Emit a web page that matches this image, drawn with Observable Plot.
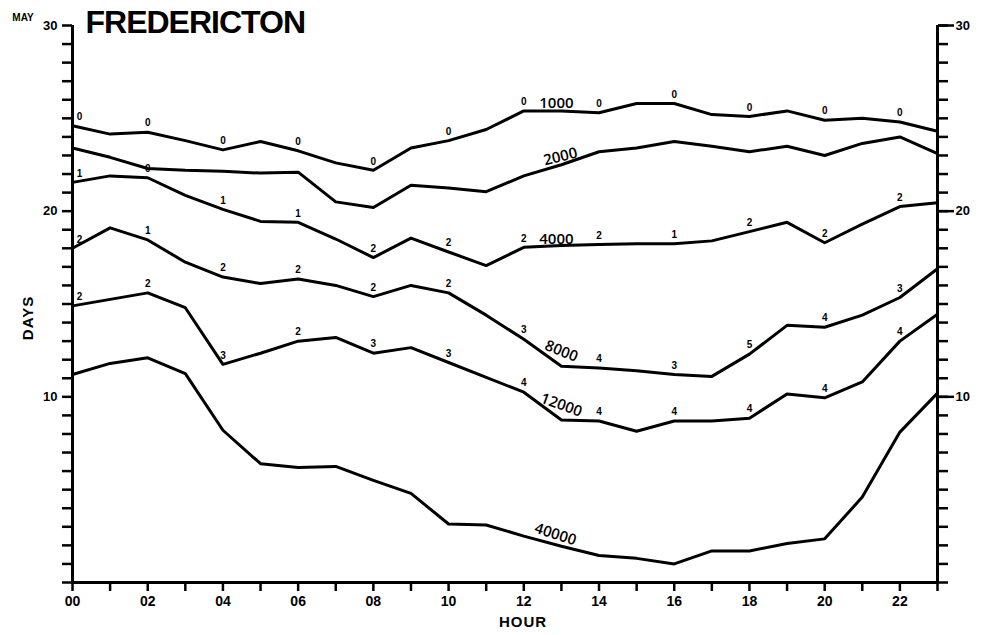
<!DOCTYPE html>
<html>
<head>
<meta charset="utf-8">
<script src="https://cdn.jsdelivr.net/npm/d3@7"></script>
<script src="https://cdn.jsdelivr.net/npm/@observablehq/plot@0.6"></script>
<style>
  html, body { margin: 0; padding: 0; background: #fff; }
  #chart { width: 986px; height: 635px; }
</style>
</head>
<body>
<div id="chart"></div>
<script>
// ---- data ----
const hours = [0,1,2,3,4,5,6,7,8,9,10,11,12,13,14,15,16,17,18,19,20,21,22,23];
const hourTicks = [0,1,2,3,4,5,6,7,8,9,10,11,12,13,14,15,16,17,18,19,20,21,22,23];
const hourLabelValues = [0,2,4,6,8,10,12,14,16,18,20,22];
const hourLabelText = ["00","02","04","06","08","10","12","14","16","18","20","22"];
const dayTicks = [0,1,2,3,4,5,6,7,8,9,10,11,12,13,14,15,16,17,18,19,20,21,22,23,24,25,26,27,28,29,30];
const dayLabelValues = [10,20,30];
const dayLabelText = ["10","20","30"];

const s1000  = [24.6,24.15,24.25,23.8,23.3,23.75,23.25,22.6,22.2,23.4,23.8,24.4,25.4,25.4,25.3,25.8,25.8,25.2,25.1,25.4,24.9,25.0,24.8,24.3];
const s2000  = [23.4,22.9,22.3,22.2,22.15,22.05,22.1,20.5,20.2,21.4,21.25,21.05,21.9,22.5,23.2,23.4,23.75,23.5,23.2,23.5,23.0,23.65,24.0,23.1];
const s4000  = [21.55,21.9,21.8,20.85,20.1,19.45,19.4,18.5,17.5,18.55,17.8,17.07,18.05,18.15,18.2,18.25,18.25,18.4,18.9,19.4,18.3,19.3,20.25,20.45];
const s8000  = [18.0,19.1,18.45,17.25,16.45,16.1,16.35,16.0,15.4,16.0,15.6,14.4,13.1,11.65,11.55,11.4,11.2,11.1,12.3,13.85,13.75,14.4,15.35,16.9];
const s12000 = [14.9,15.25,15.6,14.8,11.75,12.35,13.0,13.2,12.35,12.65,11.85,11.05,10.25,8.75,8.7,8.15,8.7,8.7,8.85,10.15,9.95,10.8,13.0,14.45];
const s40000 = [11.2,11.8,12.1,11.25,8.2,6.4,6.2,6.25,5.5,4.8,3.15,3.1,2.5,1.95,1.45,1.3,1.0,1.7,1.7,2.1,2.35,4.6,8.1,10.2];

const seriesNames = ["1000","2000","4000","8000","12000","40000"];

// small annotation numbers along the curves, at the even hours
const markHours = [0,2,4,6,8,10,12,14,16,18,20,22];
const marks1000  = ["0","0","0","0","0","0","0","0","0","0","0","0"];
const marks4000  = ["1","0","1","1","2","2","2","2","1","2","2","2"];
const marks8000  = ["2","1","2","2","2","2","3","4","3","5","4","3"];
const marks12000 = ["2","2","3","2","3","3","4","4","4","4","4","4"];

// hour at which each curve's name is written
const nameHour = 13;

// ---- build tables ----
const allSeries = [s1000, s2000, s4000, s8000, s12000, s40000];
const lineData = allSeries.flatMap((vals, k) =>
  hours.map((h, i) => ({name: seriesNames[k], hour: h, days: vals[i]})));

const markSets = [[s1000, marks1000], [s4000, marks4000], [s8000, marks8000], [s12000, marks12000]];
const markData = markSets.flatMap(([vals, txt]) =>
  markHours.map((h, j) => ({hour: h, days: vals[hours.indexOf(h)], text: txt[j]})));

const nameIdx = hours.indexOf(nameHour);
function curveName(k, opts) {
  return Plot.text([{hour: nameHour, days: allSeries[k][nameIdx], text: seriesNames[k]}], {
    x: "hour", y: "days", text: "text",
    fontSize: 15, fontWeight: 600, fontFamily: "'Open Sans', 'Liberation Sans', sans-serif",
    fill: "black", ...opts
  });
}

const font = "'Liberation Sans', Arial, Helvetica, sans-serif";

const chart = Plot.plot({
  width: 986,
  height: 635,
  marginLeft: 72,
  marginRight: 49,
  marginTop: 25,
  marginBottom: 53,
  x: {domain: [0, 23]},
  y: {domain: [0, 30]},
  style: {fontFamily: font, fontWeight: "bold", background: "white", color: "black", overflow: "visible"},
  marks: [
    // axes
    Plot.axisX({anchor: "bottom", ticks: hourTicks, tickSize: 9, tickPadding: 5, strokeWidth: 2.5,
      tickFormat: d => hourLabelValues.includes(d) ? hourLabelText[hourLabelValues.indexOf(d)] : "",
      fontSize: 14, fontWeight: "bold", label: null}),
    Plot.axisY({anchor: "left", ticks: dayTicks, tickSize: 10, tickPadding: 5, strokeWidth: 2.5,
      tickFormat: d => dayLabelValues.includes(d) ? dayLabelText[dayLabelValues.indexOf(d)] : "",
      fontSize: 13, fontWeight: "bold", label: null}),
    Plot.axisY({anchor: "right", ticks: dayTicks, tickSize: 10, strokeWidth: 2.5,
      tickFormat: () => "", label: null}),
    Plot.axisY({anchor: "right", ticks: dayLabelValues, tickSize: 16, tickPadding: 2, strokeWidth: 2.5,
      tickFormat: d => dayLabelText[dayLabelValues.indexOf(d)],
      fontSize: 13, fontWeight: "bold", label: null}),
    Plot.ruleY([0], {strokeWidth: 3}),
    Plot.ruleX([0], {strokeWidth: 3}),
    Plot.ruleX([23], {strokeWidth: 3}),

    // curves
    Plot.line(lineData, {x: "hour", y: "days", z: "name", stroke: "black", strokeWidth: 3,
      strokeLinejoin: "round", strokeLinecap: "round"}),

    // small numbers
    Plot.text(markData.filter(d => d.hour === 0), {x: "hour", y: "days", text: "text",
      dx: 7, dy: -9, fontSize: 10, fontWeight: "bold", fill: "black"}),
    Plot.text(markData.filter(d => d.hour !== 0), {x: "hour", y: "days", text: "text",
      dy: -9, fontSize: 10, fontWeight: "bold", fill: "black"}),

    // curve names
    curveName(0, {dx: -5, dy: -8}),
    curveName(1, {dx: -1, dy: -8, rotate: -14}),
    curveName(2, {dx: -5, dy: -6}),
    curveName(3, {dx: 0, dy: -15, rotate: 22}),
    curveName(4, {dx: 0, dy: -15, rotate: 20}),
    curveName(5, {dx: -6, dy: -12, rotate: 18}),

    // title and axis labels
    Plot.text(["FREDERICTON"], {frameAnchor: "top-left", textAnchor: "start", lineAnchor: "bottom",
      dx: 13, dy: 7, fontSize: 32, fontWeight: "bold", fill: "black"}),
    Plot.text(["MAY"], {frameAnchor: "top-left", textAnchor: "middle", lineAnchor: "middle",
      dx: -49.5, dy: -8, fontSize: 10, fontWeight: "bold", fill: "black"}),
    Plot.text(["DAYS"], {frameAnchor: "left", textAnchor: "middle", lineAnchor: "middle", rotate: -90,
      dx: -44, dy: 14, fontSize: 15, fontWeight: "bold", fill: "black"}),
    Plot.text(["HOUR"], {frameAnchor: "bottom", textAnchor: "middle", lineAnchor: "middle",
      dx: 18, dy: 40, fontSize: 15, fontWeight: "bold", fill: "black"})
  ]
});

d3.select(chart).selectAll("text").each(function() {
  const t = this.textContent;
  if (t === "FREDERICTON") this.style.letterSpacing = "-1px";
  if (t === "HOUR" || t === "DAYS") this.style.letterSpacing = "1px";
});

document.getElementById("chart").appendChild(chart);
</script>
</body>
</html>
